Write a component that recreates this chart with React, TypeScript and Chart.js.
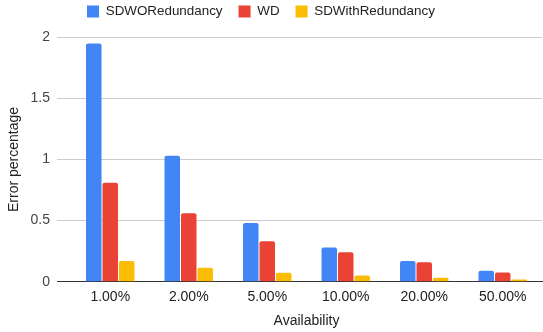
import React, { useEffect, useRef } from "react";
import { Chart, registerables } from "chart.js";

Chart.register(...registerables);

const categories = ["1.00%", "2.00%", "5.00%", "10.00%", "20.00%", "50.00%"];
const sdWORedundancy = [1.95, 1.03, 0.48, 0.28, 0.17, 0.09];
const wd = [0.81, 0.56, 0.33, 0.24, 0.16, 0.075];
const sdWithRedundancy = [0.17, 0.115, 0.074, 0.05, 0.033, 0.017];
const yTicks = [0, 0.5, 1, 1.5, 2];

const FONT = "'Liberation Sans', Arial, sans-serif";

export default function App() {
  const ref = useRef<HTMLCanvasElement | null>(null);
  useEffect(() => {
    if (!ref.current) return;
    const chart = new Chart(ref.current, {
      type: "bar",
      data: {
        labels: categories,
        datasets: [
          { label: "SDWORedundancy", data: sdWORedundancy, backgroundColor: "#4285F4" },
          { label: "WD", data: wd, backgroundColor: "#EA4335" },
          { label: "SDWithRedundancy", data: sdWithRedundancy, backgroundColor: "#FBBC04" },
        ].map((d) => ({
          ...d,
          borderWidth: 0,
          borderRadius: 2,
          categoryPercentage: 0.63,
          barPercentage: 0.94,
        })),
      },
      options: {
        animation: false,
        responsive: false,
        maintainAspectRatio: false,
        layout: { padding: { left: 0, right: 1, top: -11.2, bottom: 0 } },
        font: { family: FONT },
        plugins: {
          legend: {
            position: "top",
            align: "start",
            fullSize: false,
            labels: {
              boxWidth: 12,
              boxHeight: 12,
              padding: 16,
              color: "#222",
              font: { family: FONT, size: 13.4 },
            },
          },
          subtitle: {
            display: true,
            text: "",
            weight: 500,
            padding: { top: 0, bottom: 0 },
            font: { family: FONT, size: 9.1, lineHeight: 1 },
          } as any,
          tooltip: { enabled: false },
        },
        scales: {
          x: {
            grid: { display: false, drawTicks: false },
            border: { display: true, color: "#333", width: 1 },
            ticks: { color: "#222", font: { family: FONT, size: 14 }, padding: 7, maxRotation: 0 },
            title: {
              display: true,
              text: "Availability",
              color: "#222",
              font: { family: FONT, size: 14 },
              padding: { top: 0, bottom: 2 },
            },
            afterFit: (s: any) => {
              s.height = 50.3;
            },
          },
          y: {
            min: 0,
            max: 2,
            afterBuildTicks: (s: any) => {
              s.ticks = yTicks.map((v) => ({ value: v }));
            },
            grid: {
              color: (c: any) => (c.tick && c.tick.value === 0 ? "#333" : "#ccc"),
              tickColor: (c: any) => (c.tick && c.tick.value === 0 ? "#333" : "#ccc"),
              tickLength: 14,
              lineWidth: 1,
            },
            border: { display: false },
            ticks: {
              color: "#444",
              font: { family: FONT, size: 14 },
              padding: 7,
              callback: (v: any) => String(v),
            },
            title: {
              display: true,
              text: "Error percentage",
              color: "#222",
              font: { family: FONT, size: 14 },
              padding: { top: 5.5, bottom: 0 },
            },
            afterFit: (s: any) => {
              s.width = 71;
            },
          },
        },
      },
    });
    return () => chart.destroy();
  }, []);
  return (
    <div style={{ position: "fixed", left: 0, top: 0, width: 543, height: 332, background: "#fff" }}>
      <canvas ref={ref} width={543} height={332} style={{ display: "block" }} />
    </div>
  );
}
